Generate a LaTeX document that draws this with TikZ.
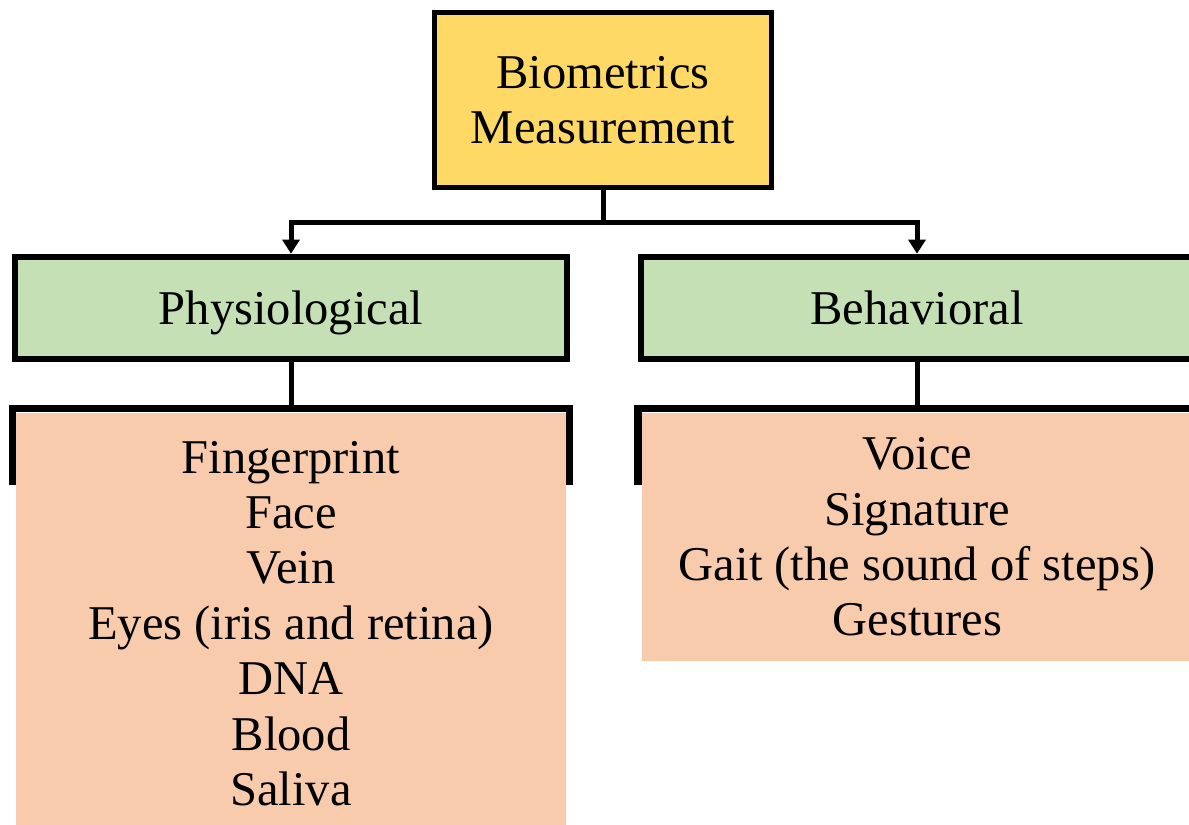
\documentclass[tikz,border=0pt]{standalone}
\usepackage{fontspec}
\setmainfont{Liberation Serif}
\usepackage{tikz}
\usetikzlibrary{arrows.meta}
\definecolor{goldfill}{HTML}{FFD966}
\definecolor{greenfill}{HTML}{C5E0B4}
\definecolor{salmonfill}{HTML}{F8CBAD}

\begin{document}
\begin{tikzpicture}[x=0.01cm,y=-0.01cm,>={Triangle[width=4.8pt,length=4pt]},
	every node/.style={font=\fontsize{13.8}{15.75}\selectfont,align=center,inner sep=0pt},
	topbox/.style={draw,line width=1.42pt,fill=goldfill,minimum width=3.375cm,minimum height=1.755cm},
	catbox/.style={draw,line width=1.7pt,fill=greenfill,minimum width=5.52cm,minimum height=1.025cm,text depth=0pt},
	listbox/.style={fill=salmonfill},
	conn/.style={line width=1.42pt},
	bracket/.style={line width=2.2pt}]
\useasboundingbox (0,0) rectangle (1189,824);

% top of the tree
\node[topbox] (bio) at (603,100) {Biometrics\\Measurement};

% the two kinds
\node[catbox] (physio) at (291,308) {Physiological};
\node[catbox] (behav) at (917,308) {Behavioral};

% lists under each kind
\node[listbox,minimum width=5.5cm,minimum height=4.21cm] (physlist) at (291,623.5)
	{Fingerprint\\Face\\Vein\\Eyes (iris and retina)\\DNA\\Blood\\Saliva};
\node[listbox,minimum width=5.51cm,minimum height=2.48cm] (behavlist) at (917.5,537)
	{Voice\\Signature\\Gait (the sound of steps)\\Gestures};

\draw[bracket] (12.5,485) -- (12.5,408.5) -- (569.5,408.5) -- (569.5,485);
\draw[bracket] (638,485) -- (638,408.5) -- (1197,408.5) -- (1197,485);

\coordinate (split) at (603,222);
\draw[conn] (bio) -- (split);
\draw[conn,->] (split) -| (physio);
\draw[conn,->] (split) -| (behav);
\draw[conn] (physio.south) -- (physio.south |- 0,410);
\draw[conn] (behav.south) -- (behav.south |- 0,410);
\end{tikzpicture}
\end{document}
